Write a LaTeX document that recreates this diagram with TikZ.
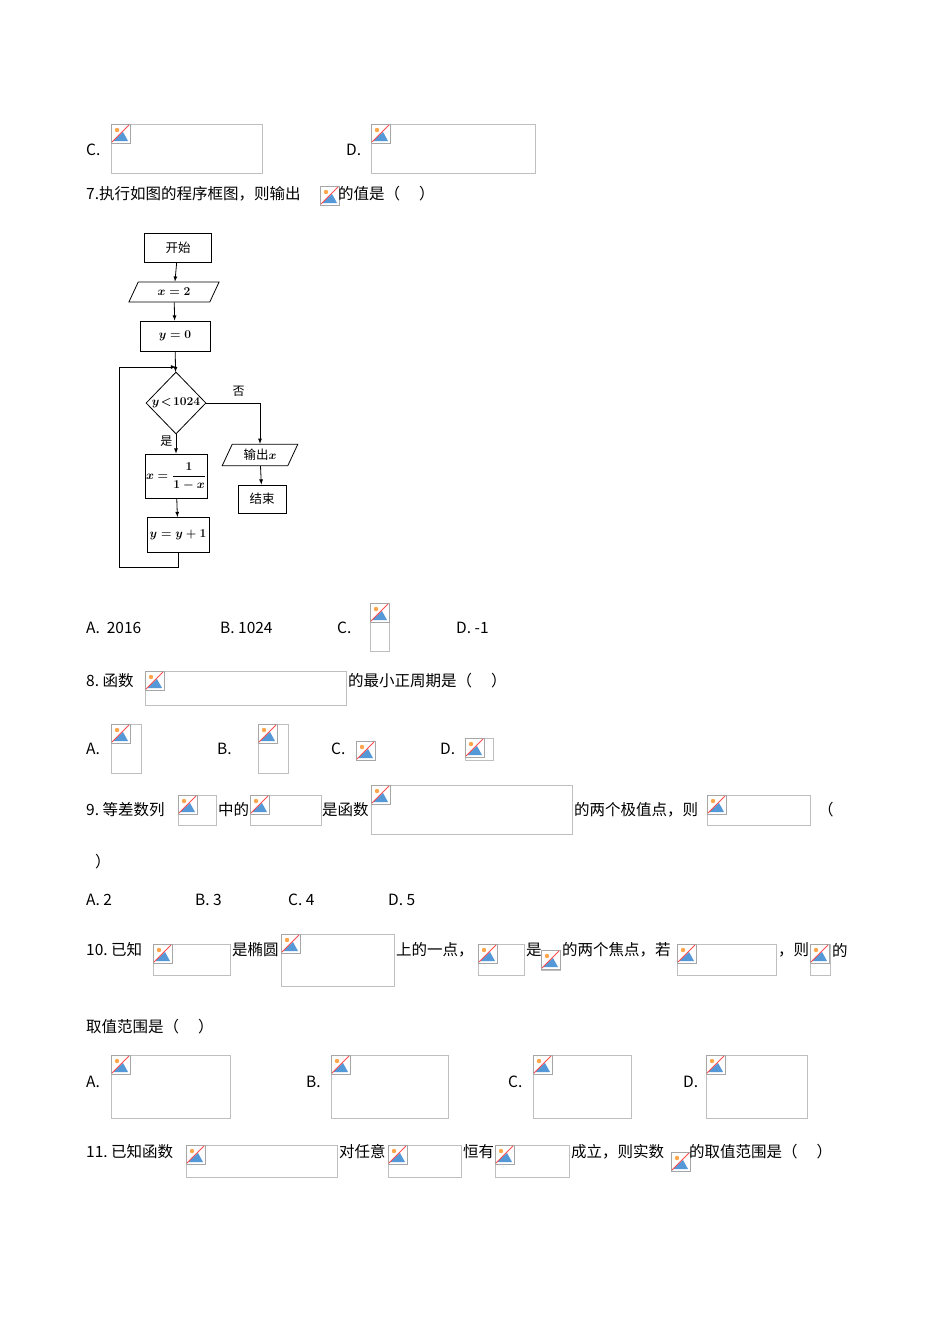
\documentclass[tikz,border=0pt]{standalone}
\usepackage{fontspec}
\setmainfont{Noto Sans CJK SC}
\usepackage{amsmath}
\usetikzlibrary{arrows,positioning,shapes.geometric}
\newcommand{\ph}[4]{%
  \draw[gray!50] (#1,#2) rectangle (#3,#4);
  \draw[gray!70,fill=white] (#1,#2) rectangle ++(19,19);
  \fill[cyan!60!blue!70] (#1+2,#2+17) -- (#1+12,#2+8) -- (#1+17,#2+17) -- cycle;
  \fill[orange!70] (#1+6,#2+6) circle (2.2);
  \draw[red!70,thick] (#1+1,#2+18) -- (#1+18,#2+1);}
\begin{document}
\begin{tikzpicture}[x=1pt,y=-1pt,
    txt/.style={anchor=west,inner sep=0pt,font=\fontsize{15.5}{17}\selectfont},
    box/.style={draw,thick,inner sep=0pt,font=\fontsize{12.5}{14}\selectfont\boldmath},
    io/.style={trapezium,trapezium left angle=65,trapezium right angle=115,draw,thick,inner sep=1pt,font=\fontsize{12.5}{14}\selectfont\boldmath},
    cond/.style={diamond,draw,thick,inner sep=0pt,minimum width=60,minimum height=62,font=\fontsize{12}{14}\selectfont\boldmath},
    flow/.style={thick,-latex}]
\useasboundingbox (0,0) rectangle (950,1344);
% options C, D of question 6
\node[txt] (c6) at (86,150) {C.};
\ph{111}{124}{262}{173}
\node[txt] (d6) at (346,150) {D.};
\ph{371}{124}{535}{173}
% question 7
\node[txt] (q7) at (86,194) {7.执行如图的程序框图，则输出};
\ph{320}{186}{337}{205}
\node[txt] (q7b) at (338,194) {的值是（\quad\ ）};
% flowchart
\node[box,minimum width=67,minimum height=29] (start) at (178,248) {开始};
\node[io,minimum width=90,minimum height=20] (setx) at (174,292) {$x=2$};
\node[box,minimum width=70,minimum height=30] (sety) at (175,336) {$y=0$};
\node[cond] (test) at (176,403) {$y\!<\!1024$};
\node[box,minimum width=62,minimum height=44] (upx) at (176,476) {$x=\dfrac{1}{1-x}$};
\node[box,minimum width=62,minimum height=35] (upy) at (178,535) {$y=y+1$};
\node[io,minimum width=76,minimum height=21] (out) at (260,455) {输出$x$};
\node[box,minimum width=48,minimum height=28] (stop) at (262,499) {结束};
\coordinate (join) at (176,367);
\draw[flow] (start) -- (setx);
\draw[flow] (setx) -- (sety);
\draw[flow] (sety) -- (test);
\draw[flow] (test) -- node[left,pos=0.35,font=\fontsize{12}{14}\selectfont] {是} (upx);
\draw[flow] (upx) -- (upy);
\draw[flow] (test.east) -| node[above,pos=0.3,font=\fontsize{12}{14}\selectfont,yshift=3] {否} (out);
\draw[flow] (out) -- (stop);
\draw[flow] (upy.south) -- ++(0,14) -| (119,367) -- (join);
% answers of question 7
\node[txt] (a7) at (86,628) {A.\ \ 2016};
\node[txt] (b7) at (220,628) {B.\ 1024};
\node[txt] (c7) at (337,628) {C.};
\ph{370}{603}{389}{651}
\node[txt] (d7) at (456,628) {D.\ -1};
% question 8
\node[txt] (q8) at (86,681) {8.\ 函数};
\ph{145}{671}{346}{705}
\node[txt] (q8b) at (348,681) {的最小正周期是（\quad\ ）};
\node[txt] (a8) at (86,749) {A.};
\ph{111}{724}{141}{773}
\node[txt] (b8) at (217,749) {B.};
\ph{258}{724}{288}{773}
\node[txt] (c8) at (331,749) {C.};
\ph{356}{741}{374}{757}
\node[txt] (d8) at (440,749) {D.};
\ph{465}{738}{493}{760}
% question 9
\node[txt] (q9) at (86,810) {9.\ 等差数列};
\ph{178}{795}{216}{825}
\node[txt] (q9b) at (218,810) {中的};
\ph{250}{795}{321}{825}
\node[txt] (q9c) at (322,810) {是函数};
\ph{371}{785}{572}{834}
\node[txt] (q9d) at (574,810) {的两个极值点，则};
\ph{707}{795}{810}{825}
\node[txt] (q9e) at (818,810) {（};
\node[txt] (q9f) at (95,862) {）};
\node[txt] (a9) at (86,900) {A.\ 2};
\node[txt] (b9) at (195,900) {B.\ 3};
\node[txt] (c9) at (288,900) {C.\ 4};
\node[txt] (d9) at (388,900) {D.\ 5};
% question 10
\node[txt] (q10) at (86,950) {10.\ 已知};
\ph{153}{944}{230}{975}
\node[txt] (q10b) at (232,950) {是椭圆};
\ph{281}{934}{394}{986}
\node[txt] (q10c) at (396,950) {上的一点，};
\ph{478}{944}{524}{975}
\node[txt] (q10d) at (526,950) {是};
\ph{541}{950}{560}{970}
\node[txt] (q10e) at (562,950) {的两个焦点，若};
\ph{677}{944}{776}{975}
\node[txt] (q10f) at (778,950) {，则};
\ph{810}{944}{830}{975}
\node[txt] (q10g) at (832,950) {的};
\node[txt] (q10h) at (86,1027) {取值范围是（\quad\ ）};
\node[txt] (a10) at (86,1082) {A.};
\ph{111}{1055}{230}{1118}
\node[txt] (b10) at (306,1082) {B.};
\ph{331}{1055}{448}{1118}
\node[txt] (c10) at (508,1082) {C.};
\ph{533}{1055}{631}{1118}
\node[txt] (d10) at (683,1082) {D.};
\ph{706}{1055}{807}{1118}
% question 11
\node[txt] (q11) at (86,1152) {11.\ 已知函数};
\ph{186}{1145}{337}{1177}
\node[txt] (q11b) at (339,1152) {对任意};
\ph{388}{1145}{461}{1177}
\node[txt] (q11c) at (463,1152) {恒有};
\ph{495}{1145}{569}{1177}
\node[txt] (q11d) at (571,1152) {成立，则实数};
\ph{671}{1152}{687}{1170}
\node[txt] (q11e) at (689,1152) {的取值范围是（\quad\ ）};
\end{tikzpicture}
\end{document}
